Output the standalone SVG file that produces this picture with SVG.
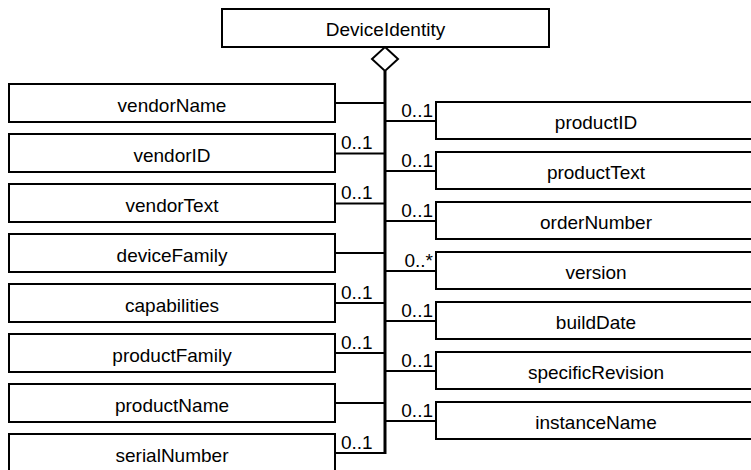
<svg xmlns="http://www.w3.org/2000/svg" width="751" height="470" viewBox="0 0 751 470">
<style>
.box{fill:#fff;stroke:#000;stroke-width:2}
.lbl{font-family:"Liberation Sans",Arial,sans-serif;font-size:19px;fill:#000;text-anchor:middle}
.m{font-family:"Liberation Sans",Arial,sans-serif;font-size:19px;fill:#000}
.mr{font-family:"Liberation Sans",Arial,sans-serif;font-size:19px;fill:#000;text-anchor:end}
.c{stroke:#000;stroke-width:2;fill:none}
</style>
<rect width="751" height="470" fill="#fff"/>
<g id="connectors">
<polygon points="385,47 398,59 385,71 372,59" fill="#fff" stroke="#000" stroke-width="2"/>
<line x1="385" y1="71" x2="385" y2="454" stroke="#000" stroke-width="3"/>
<line class="c" x1="335" y1="103" x2="385" y2="103"/>
<line class="c" x1="335" y1="153.5" x2="385" y2="153.5"/>
<line class="c" x1="335" y1="203.5" x2="385" y2="203.5"/>
<line class="c" x1="335" y1="253" x2="385" y2="253"/>
<line class="c" x1="335" y1="303" x2="385" y2="303"/>
<line class="c" x1="335" y1="353" x2="385" y2="353"/>
<line class="c" x1="335" y1="403" x2="385" y2="403"/>
<line class="c" x1="335" y1="453" x2="385" y2="453"/>
<line class="c" x1="385" y1="121" x2="436" y2="121"/>
<line class="c" x1="385" y1="171" x2="436" y2="171"/>
<line class="c" x1="385" y1="221" x2="436" y2="221"/>
<line class="c" x1="385" y1="271" x2="436" y2="271"/>
<line class="c" x1="385" y1="321" x2="436" y2="321"/>
<line class="c" x1="385" y1="371" x2="436" y2="371"/>
<line class="c" x1="385" y1="421" x2="436" y2="421"/>
<text class="m" x="341" y="149">0..1</text>
<text class="m" x="341" y="199">0..1</text>
<text class="m" x="341" y="299">0..1</text>
<text class="m" x="341" y="349">0..1</text>
<text class="m" x="341" y="449">0..1</text>
<text class="mr" x="433" y="117">0..1</text>
<text class="mr" x="433" y="167">0..1</text>
<text class="mr" x="433" y="217">0..1</text>
<text class="mr" x="433" y="267">0..*</text>
<text class="mr" x="433" y="317">0..1</text>
<text class="mr" x="433" y="367">0..1</text>
<text class="mr" x="433" y="417">0..1</text>
</g>
<g id="DeviceIdentity"><rect class="box" x="222" y="9" width="327" height="38"/><text class="lbl" x="385.5" y="36">DeviceIdentity</text></g>
<g id="vendorName"><rect class="box" x="9" y="84" width="326" height="38"/><text class="lbl" x="172" y="111.5">vendorName</text></g>
<g id="vendorID"><rect class="box" x="9" y="134" width="326" height="38"/><text class="lbl" x="172" y="161.5">vendorID</text></g>
<g id="vendorText"><rect class="box" x="9" y="184" width="326" height="38"/><text class="lbl" x="172" y="211.5">vendorText</text></g>
<g id="deviceFamily"><rect class="box" x="9" y="234" width="326" height="38"/><text class="lbl" x="172" y="261.5">deviceFamily</text></g>
<g id="capabilities"><rect class="box" x="9" y="284" width="326" height="38"/><text class="lbl" x="172" y="311.5">capabilities</text></g>
<g id="productFamily"><rect class="box" x="9" y="334" width="326" height="38"/><text class="lbl" x="172" y="361.5">productFamily</text></g>
<g id="productName"><rect class="box" x="9" y="384" width="326" height="38"/><text class="lbl" x="172" y="411.5">productName</text></g>
<g id="serialNumber"><rect class="box" x="9" y="434" width="326" height="38"/><text class="lbl" x="172" y="461.5">serialNumber</text></g>
<g id="productID"><rect class="box" x="436" y="102" width="322" height="37"/><text class="lbl" x="596" y="129">productID</text></g>
<g id="productText"><rect class="box" x="436" y="152" width="322" height="37"/><text class="lbl" x="596" y="179">productText</text></g>
<g id="orderNumber"><rect class="box" x="436" y="202" width="322" height="37"/><text class="lbl" x="596" y="229">orderNumber</text></g>
<g id="version"><rect class="box" x="436" y="252" width="322" height="37"/><text class="lbl" x="596" y="279">version</text></g>
<g id="buildDate"><rect class="box" x="436" y="302" width="322" height="37"/><text class="lbl" x="596" y="329">buildDate</text></g>
<g id="specificRevision"><rect class="box" x="436" y="352" width="322" height="37"/><text class="lbl" x="596" y="379">specificRevision</text></g>
<g id="instanceName"><rect class="box" x="436" y="402" width="322" height="37"/><text class="lbl" x="596" y="429">instanceName</text></g>
</svg>
